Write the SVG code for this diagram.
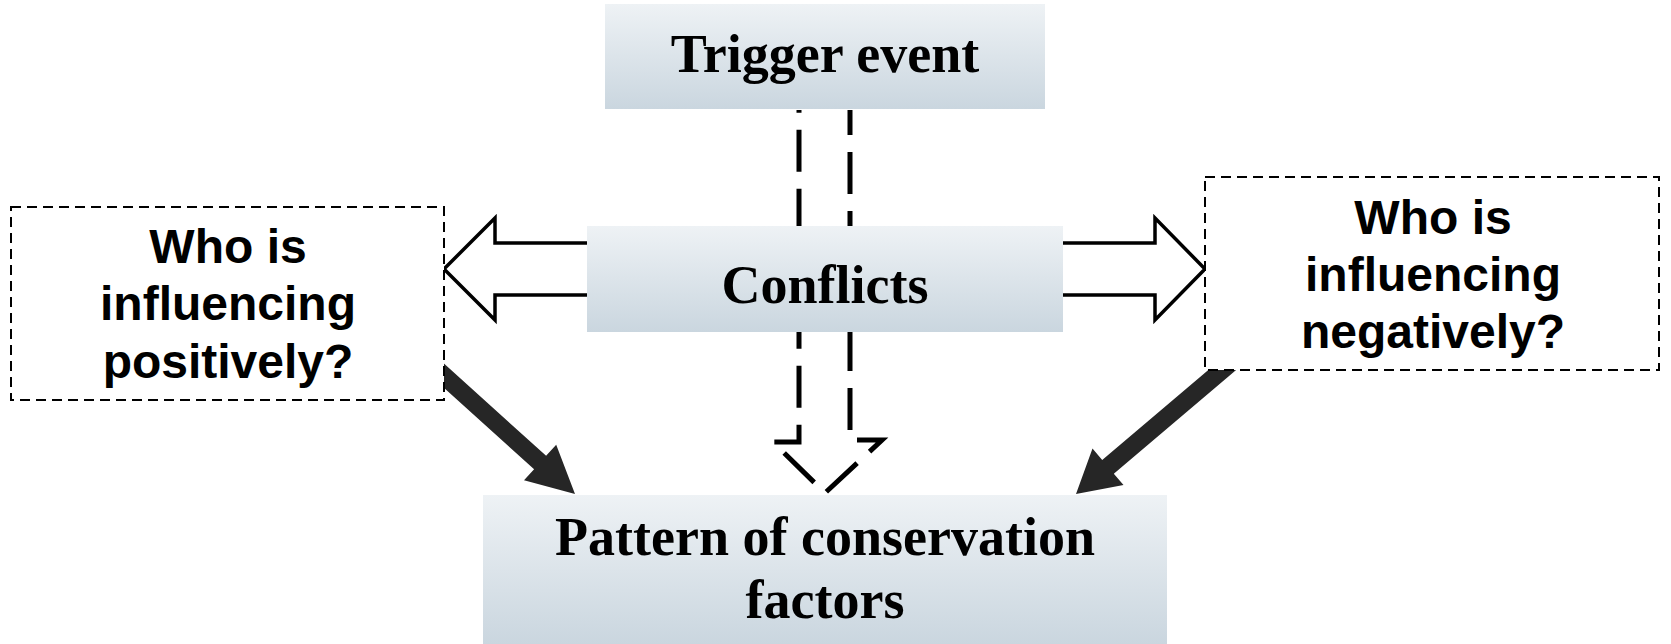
<svg xmlns="http://www.w3.org/2000/svg" width="1671" height="644" viewBox="0 0 1671 644">
<defs>
<linearGradient id="g" x1="0" y1="0" x2="0" y2="1">
<stop offset="0" stop-color="#eef2f5"/>
<stop offset="1" stop-color="#cad6df"/>
</linearGradient>
<style>
.solid{fill:url(#g);stroke:none}
.dash{fill:#fff;stroke:#000;stroke-width:2;stroke-dasharray:10 6}
.serif{font-family:"Liberation Serif","Times New Roman",serif;font-weight:bold;font-size:54px;fill:#000;text-anchor:middle}
.sans{font-family:"Liberation Sans",Arial,sans-serif;font-weight:bold;font-size:48px;fill:#000;text-anchor:middle}
.thick{fill:#262626;stroke:none}
.hollow{fill:#fff;stroke:#000;stroke-width:3.5;stroke-linejoin:miter}
.vdash{fill:none;stroke:#000;stroke-width:5;stroke-dasharray:42 17;stroke-dashoffset:17}
</style>
</defs>
<rect width="1671" height="644" fill="#fff"/>
<g id="connectors">
<polygon class="thick" points="434.8,355.3 546.1,455.8 556.2,444.7 575,494 524,480.3 534.1,469.2 422.8,368.7"/>
<polygon class="thick" points="1231.9,349.9 1102.2,459.9 1092.5,448.5 1076,494 1123.5,485.1 1113.8,473.7 1243.5,363.7"/>
<path class="vdash" d="M850,110 V440 H882 L825,493 L773,442 H799 V110"/>
<polygon class="hollow" points="600,243 495,243 495,218 444,269 495,320 495,295 600,295"/>
<polygon class="hollow" points="1050,243 1155,243 1155,218 1205,269 1155,320 1155,295 1050,295"/>
</g>
<g id="node-positive">
<rect class="dash" x="11" y="207" width="433" height="193"/>
<text class="sans" x="228" y="263">Who is</text>
<text class="sans" x="228" y="320">influencing</text>
<text class="sans" x="228" y="378">positively?</text>
</g>
<g id="node-negative">
<rect class="dash" x="1205" y="177" width="454" height="193"/>
<text class="sans" x="1433" y="234">Who is</text>
<text class="sans" x="1433" y="291">influencing</text>
<text class="sans" x="1433" y="348">negatively?</text>
</g>
<g id="node-trigger">
<rect class="solid" x="605" y="4" width="440" height="105"/>
<text class="serif" x="825" y="72">Trigger event</text>
</g>
<g id="node-conflicts">
<rect class="solid" x="587" y="226" width="476" height="106"/>
<text class="serif" x="825" y="303">Conflicts</text>
</g>
<g id="node-pattern">
<rect class="solid" x="483" y="495" width="684" height="149"/>
<text class="serif" x="825" y="555">Pattern of conservation</text>
<text class="serif" x="825" y="618">factors</text>
</g>
</svg>
